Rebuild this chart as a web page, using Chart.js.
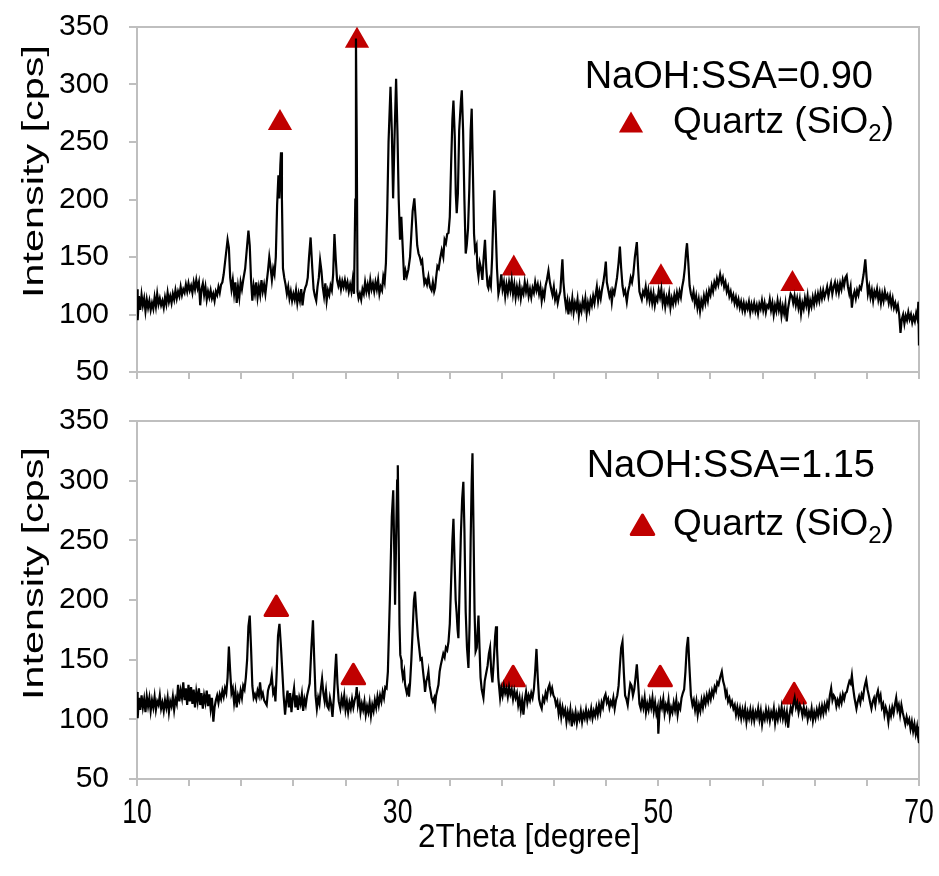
<!DOCTYPE html>
<html><head><meta charset="utf-8">
<script src="https://cdn.jsdelivr.net/npm/chart.js@4/dist/chart.umd.min.js"></script>
<style>
html,body{margin:0;padding:0;background:#fff;}
#wrap{position:relative;width:939px;height:876px;overflow:hidden;background:#fff;}
canvas{position:absolute;left:0;}
#c1{top:0;} #c2{top:400px;}
</style></head><body>
<div id="wrap"><canvas id="c1" width="939" height="400"></canvas><canvas id="c2" width="939" height="476"></canvas></div>
<script>
// ---------- data ----------
const xTickLabels = [10, 30, 50, 70];
const yTickValues = [50, 100, 150, 200, 250, 300, 350];
const sampleLabels = ['NaOH:SSA=0.90', 'NaOH:SSA=1.15'];
const quartzLabel = ['Quartz (SiO', '2', ')'];
const xTitle = '2Theta [degree]';
const yTitle = 'Intensity [cps]';

// XRD pattern, NaOH:SSA = 0.90  [2theta, intensity]
const pattern090 = [
[10.00,122],[10.05,95],[10.15,116],[10.25,104],[10.35,117],[10.45,108],[10.55,114],[10.65,103],[10.75,113],[10.85,106],
[10.95,112],[11.05,104],[11.15,110],[11.25,105],[11.35,115],[11.45,107],[11.55,118],[11.65,109],[11.75,114],[11.85,108],
[11.95,112],[12.05,106],[12.15,115],[12.25,109],[12.35,119],[12.45,111],[12.55,116],[12.65,110],[12.75,118],[12.85,113],
[12.95,121],[13.05,114],[13.15,120],[13.25,116],[13.35,124],[13.45,117],[13.55,122],[13.65,119],[13.75,126],[13.85,120],
[13.95,127],[14.05,121],[14.15,125],[14.25,119],[14.35,128],[14.45,122],[14.55,130],[14.65,123],[14.75,128],[14.85,108],
[14.95,122],[15.05,127],[15.15,117],[15.25,124],[15.35,113],[15.45,120],[15.55,115],[15.65,121],[15.75,114],[15.85,118],
[15.95,112],[16.05,120],[16.15,117],[16.25,124],[16.35,119],[16.45,126],[16.55,128],[16.65,135],[16.80,150],[16.95,165],
[17.05,158],[17.15,132],[17.25,122],[17.35,130],[17.45,118],[17.55,128],[17.65,110],[17.75,124],[17.85,115],[17.95,128],
[18.05,122],[18.15,130],[18.30,140],[18.45,160],[18.55,173],[18.65,160],[18.75,130],[18.85,112],[18.95,125],[19.05,118],
[19.15,128],[19.25,115],[19.35,124],[19.45,117],[19.55,130],[19.65,120],[19.75,126],[19.85,118],[19.95,128],[20.05,138],
[20.15,150],[20.25,141],[20.35,130],[20.45,140],[20.55,135],[20.65,150],[20.75,195],[20.85,221],[20.92,201],[21.00,230],
[21.05,241],[21.12,200],[21.20,140],[21.30,132],[21.40,126],[21.50,118],[21.60,124],[21.70,114],[21.80,120],[21.90,112],
[22.00,118],[22.10,113],[22.20,121],[22.30,110],[22.40,118],[22.50,112],[22.60,122],[22.70,108],[22.80,118],[22.90,123],
[23.00,126],[23.10,132],[23.20,150],[23.32,167],[23.45,140],[23.55,122],[23.65,116],[23.75,112],[23.85,124],[23.95,132],
[24.05,147],[24.15,138],[24.25,124],[24.35,116],[24.45,127],[24.55,112],[24.65,121],[24.75,117],[24.85,125],[24.95,121],
[25.05,135],[25.15,170],[25.25,148],[25.35,130],[25.45,125],[25.55,130],[25.65,122],[25.75,129],[25.85,124],[25.95,130],
[26.05,123],[26.15,128],[26.25,120],[26.35,126],[26.45,120],[26.55,130],[26.65,118],[26.75,200],[26.80,340],[26.86,250],
[26.92,120],[27.00,114],[27.10,118],[27.20,113],[27.30,122],[27.40,118],[27.50,128],[27.60,120],[27.70,126],[27.80,119],
[27.90,130],[28.00,122],[28.10,127],[28.20,120],[28.30,128],[28.40,122],[28.50,130],[28.60,118],[28.70,124],[28.80,121],
[28.90,133],[29.00,128],[29.10,145],[29.20,190],[29.30,250],[29.45,298],[29.55,260],[29.65,201],[29.75,250],[29.88,305],
[29.98,260],[30.08,200],[30.18,165],[30.28,185],[30.38,160],[30.50,130],[30.60,138],[30.70,133],[30.82,139],[30.95,150],
[31.05,170],[31.15,190],[31.28,201],[31.40,180],[31.50,160],[31.60,153],[31.70,150],[31.80,145],[31.88,147],[31.95,138],
[32.05,127],[32.15,130],[32.25,126],[32.36,133],[32.48,124],[32.60,121],[32.70,128],[32.80,120],[32.87,123],[32.95,132],
[33.05,142],[33.15,140],[33.25,148],[33.38,156],[33.50,150],[33.60,165],[33.70,162],[33.80,170],[33.90,171],[34.00,185],
[34.10,230],[34.20,270],[34.28,286],[34.38,255],[34.46,205],[34.53,188],[34.62,205],[34.72,260],[34.85,285],[34.92,295],
[35.02,260],[35.12,200],[35.22,153],[35.30,160],[35.40,175],[35.50,210],[35.60,260],[35.68,279],[35.78,220],[35.86,170],
[35.94,156],[36.05,160],[36.12,140],[36.20,133],[36.30,145],[36.40,140],[36.50,130],[36.60,150],[36.70,165],[36.80,140],
[36.90,125],[36.96,123],[37.05,130],[37.15,125],[37.25,150],[37.35,190],[37.42,208],[37.52,175],[37.62,140],[37.73,118],
[37.85,125],[37.95,135],[38.05,122],[38.15,128],[38.25,116],[38.35,126],[38.45,119],[38.55,128],[38.65,121],[38.75,130],
[38.85,118],[38.95,126],[39.05,115],[39.15,124],[39.25,117],[39.35,125],[39.45,114],[39.55,122],[39.65,118],[39.75,128],
[39.85,120],[39.95,126],[40.05,116],[40.15,122],[40.25,115],[40.35,123],[40.45,119],[40.55,128],[40.65,121],[40.75,126],
[40.85,118],[40.95,124],[41.05,112],[41.15,120],[41.25,115],[41.35,125],[41.45,130],[41.57,138],[41.68,128],[41.78,122],
[41.88,117],[41.98,124],[42.08,113],[42.18,118],[42.28,110],[42.38,116],[42.48,120],[42.58,138],[42.64,148],[42.72,128],
[42.82,115],[42.92,106],[43.02,112],[43.10,100],[43.20,110],[43.30,104],[43.40,114],[43.50,102],[43.60,110],[43.70,105],
[43.80,113],[43.90,99],[44.00,108],[44.10,103],[44.20,112],[44.30,106],[44.40,114],[44.50,101],[44.60,110],[44.70,104],
[44.80,113],[44.90,108],[45.00,116],[45.10,110],[45.20,118],[45.28,124],[45.38,112],[45.48,120],[45.58,114],[45.68,122],
[45.78,128],[45.90,138],[45.97,146],[46.05,128],[46.15,122],[46.25,116],[46.35,120],[46.43,111],[46.53,121],[46.63,118],
[46.73,125],[46.83,132],[46.95,145],[47.05,159],[47.15,140],[47.25,125],[47.35,118],[47.45,121],[47.58,111],[47.68,120],
[47.78,125],[47.88,132],[47.98,128],[48.08,135],[48.20,150],[48.35,163],[48.45,140],[48.55,120],[48.65,116],[48.73,113],
[48.83,120],[48.93,117],[49.03,124],[49.13,114],[49.23,121],[49.33,112],[49.43,119],[49.53,110],[49.63,118],[49.73,108],
[49.83,115],[49.93,112],[50.03,121],[50.13,115],[50.23,122],[50.33,110],[50.43,117],[50.53,107],[50.63,115],[50.73,110],
[50.83,118],[50.93,106],[51.03,114],[51.13,109],[51.23,117],[51.33,111],[51.43,119],[51.53,113],[51.63,120],[51.73,115],
[51.83,124],[51.93,130],[52.03,140],[52.13,155],[52.20,162],[52.30,145],[52.40,125],[52.50,118],[52.60,114],[52.70,120],
[52.80,110],[52.90,116],[53.00,106],[53.10,113],[53.20,103],[53.30,112],[53.40,107],[53.50,116],[53.60,110],[53.70,118],
[53.80,112],[53.90,121],[54.00,117],[54.10,125],[54.20,120],[54.30,128],[54.40,124],[54.50,131],[54.60,126],[54.74,135],
[54.85,128],[54.95,132],[55.05,124],[55.15,128],[55.25,120],[55.35,124],[55.45,116],[55.55,120],[55.65,113],[55.75,117],
[55.85,110],[55.95,115],[56.05,108],[56.15,113],[56.25,106],[56.35,111],[56.45,104],[56.55,110],[56.65,103],[56.75,109],
[56.85,105],[56.95,111],[57.05,102],[57.15,109],[57.25,104],[57.35,110],[57.45,103],[57.55,108],[57.65,101],[57.75,109],
[57.85,105],[57.95,112],[58.05,104],[58.15,110],[58.25,102],[58.35,108],[58.45,106],[58.55,113],[58.65,104],[58.75,110],
[58.85,100],[58.95,108],[59.05,103],[59.15,112],[59.25,104],[59.35,110],[59.45,99],[59.55,107],[59.65,101],[59.75,109],
[59.85,94],[59.95,105],[60.05,112],[60.15,118],[60.25,116],[60.35,110],[60.45,116],[60.55,108],[60.65,114],[60.75,106],
[60.85,113],[60.95,101],[61.05,110],[61.15,105],[61.25,114],[61.35,108],[61.45,116],[61.55,104],[61.65,112],[61.75,107],
[61.85,115],[61.95,109],[62.05,117],[62.15,111],[62.25,118],[62.35,112],[62.45,120],[62.55,114],[62.65,121],[62.75,115],
[62.85,119],[62.95,124],[63.05,116],[63.15,122],[63.25,127],[63.35,118],[63.45,124],[63.55,128],[63.65,120],[63.75,126],
[63.85,119],[63.95,127],[64.05,122],[64.15,130],[64.25,125],[64.35,132],[64.45,134],[64.55,124],[64.65,118],[64.75,124],
[64.85,106],[64.95,116],[65.05,120],[65.15,114],[65.25,121],[65.35,117],[65.45,124],[65.55,122],[65.65,128],[65.75,135],
[65.88,148],[65.98,132],[66.08,118],[66.18,124],[66.28,115],[66.38,121],[66.48,112],[66.58,120],[66.68,116],[66.78,122],
[66.88,113],[66.98,119],[67.08,110],[67.18,118],[67.28,112],[67.38,120],[67.48,114],[67.58,117],[67.68,110],[67.78,116],
[67.88,108],[67.98,114],[68.08,106],[68.18,110],[68.28,104],[68.38,108],[68.48,100],[68.58,84],[68.68,96],[68.78,100],
[68.88,92],[68.98,99],[69.08,95],[69.18,102],[69.28,96],[69.38,100],[69.48,93],[69.58,98],[69.68,94],[69.78,101],
[69.88,96],[69.95,111],[70.00,73]
];

// XRD pattern, NaOH:SSA = 1.15  [2theta, intensity]
const pattern115 = [
[10.00,123],[10.05,101],[10.15,118],[10.25,108],[10.35,120],[10.45,110],[10.55,117],[10.65,106],[10.75,119],[10.85,111],
[10.95,118],[11.05,107],[11.15,116],[11.25,110],[11.35,119],[11.45,108],[11.55,115],[11.65,112],[11.75,120],[11.85,109],
[11.95,114],[12.05,107],[12.15,116],[12.25,110],[12.35,118],[12.45,106],[12.55,115],[12.65,111],[12.75,119],[12.85,108],
[12.95,117],[13.05,113],[13.15,129],[13.25,115],[13.35,124],[13.45,118],[13.55,131],[13.65,116],[13.75,126],[13.85,112],
[13.95,129],[14.05,115],[14.15,127],[14.25,113],[14.35,125],[14.45,110],[14.55,123],[14.65,115],[14.75,126],[14.85,112],
[14.95,122],[15.05,109],[15.15,120],[15.25,114],[15.35,124],[15.45,111],[15.55,121],[15.65,109],[15.75,118],[15.86,98],
[15.95,110],[16.05,116],[16.15,120],[16.25,114],[16.35,121],[16.45,117],[16.55,124],[16.65,119],[16.75,126],[16.85,122],
[16.95,135],[17.05,161],[17.15,140],[17.25,122],[17.35,126],[17.45,114],[17.55,123],[17.65,110],[17.75,120],[17.85,116],
[17.95,124],[18.05,118],[18.15,128],[18.25,125],[18.35,135],[18.45,150],[18.55,178],[18.65,187],[18.75,160],[18.85,128],
[18.95,118],[19.05,121],[19.15,117],[19.25,124],[19.35,120],[19.44,131],[19.55,119],[19.65,122],[19.75,116],[19.85,114],
[19.95,112],[20.05,124],[20.15,128],[20.25,130],[20.34,137],[20.45,122],[20.55,125],[20.62,115],[20.72,140],[20.82,170],
[20.93,180],[21.05,160],[21.15,140],[21.25,120],[21.36,104],[21.45,115],[21.55,124],[21.65,110],[21.75,122],[21.85,106],
[21.95,118],[22.05,126],[22.15,110],[22.25,120],[22.35,108],[22.45,118],[22.55,113],[22.65,121],[22.75,107],[22.85,117],
[22.95,112],[23.05,120],[23.15,125],[23.25,130],[23.38,160],[23.50,183],[23.60,150],[23.70,120],[23.80,109],[23.90,118],
[24.00,113],[24.10,125],[24.20,134],[24.30,122],[24.40,115],[24.50,124],[24.60,111],[24.70,109],[24.80,118],[24.90,112],
[25.00,102],[25.10,118],[25.20,140],[25.28,155],[25.38,130],[25.48,115],[25.60,109],[25.70,118],[25.80,112],[25.90,120],
[26.00,108],[26.10,115],[26.20,106],[26.30,114],[26.40,109],[26.50,117],[26.60,110],[26.70,116],[26.80,120],[26.86,127],
[26.95,112],[27.05,118],[27.15,106],[27.25,113],[27.35,108],[27.45,115],[27.55,104],[27.65,111],[27.75,106],[27.85,114],
[27.95,103],[28.05,112],[28.15,107],[28.25,116],[28.35,110],[28.45,119],[28.55,112],[28.65,120],[28.75,115],[28.85,123],
[28.95,118],[29.05,127],[29.15,126],[29.25,140],[29.40,200],[29.55,270],[29.66,292],[29.74,240],[29.80,196],[29.88,250],
[29.96,300],[30.01,313],[30.08,250],[30.14,180],[30.20,154],[30.28,150],[30.31,143],[30.40,135],[30.50,140],[30.57,129],
[30.70,122],[30.80,126],[30.87,119],[30.95,130],[31.05,150],[31.15,175],[31.25,200],[31.33,207],[31.45,185],[31.55,170],
[31.65,160],[31.75,150],[31.85,151],[31.95,140],[32.05,130],[32.10,123],[32.20,132],[32.30,136],[32.36,140],[32.45,128],
[32.55,122],[32.60,118],[32.70,115],[32.80,118],[32.87,112],[32.95,120],[33.05,125],[33.13,129],[33.22,140],[33.30,145],
[33.40,150],[33.50,155],[33.60,152],[33.70,160],[33.80,158],[33.90,165],[34.00,180],[34.10,215],[34.20,250],[34.28,268],
[34.36,235],[34.45,200],[34.52,190],[34.60,175],[34.66,168],[34.75,210],[34.85,255],[34.95,285],[35.04,299],[35.12,260],
[35.22,190],[35.32,160],[35.43,143],[35.52,180],[35.60,250],[35.68,300],[35.74,323],[35.82,260],[35.90,190],[35.98,157],
[36.07,160],[36.14,175],[36.20,187],[36.28,160],[36.36,135],[36.45,125],[36.58,118],[36.68,132],[36.78,138],[36.90,145],
[37.00,155],[37.09,160],[37.18,140],[37.27,131],[37.38,150],[37.48,170],[37.55,178],[37.62,160],[37.72,135],[37.86,118],
[37.95,126],[38.05,120],[38.15,128],[38.25,122],[38.35,126],[38.45,119],[38.55,127],[38.65,121],[38.75,125],[38.85,117],
[38.95,124],[39.05,118],[39.15,122],[39.25,112],[39.35,118],[39.45,108],[39.55,116],[39.65,104],[39.75,116],[39.85,123],
[39.95,114],[40.05,120],[40.15,116],[40.25,122],[40.35,118],[40.45,125],[40.55,140],[40.65,159],[40.75,135],[40.85,117],
[40.95,112],[41.05,109],[41.15,118],[41.25,115],[41.35,122],[41.45,118],[41.55,126],[41.65,129],[41.75,122],[41.85,126],
[41.95,120],[42.05,118],[42.15,112],[42.25,115],[42.35,105],[42.45,112],[42.55,102],[42.65,110],[42.75,104],[42.85,108],
[42.95,98],[43.05,106],[43.15,100],[43.25,108],[43.36,94],[43.45,104],[43.55,99],[43.65,106],[43.75,97],[43.85,104],
[43.95,100],[44.05,107],[44.15,98],[44.25,105],[44.35,101],[44.45,108],[44.55,100],[44.65,106],[44.75,102],[44.85,109],
[44.95,101],[45.05,107],[45.15,103],[45.25,110],[45.35,104],[45.45,112],[45.55,106],[45.65,114],[45.75,110],[45.85,118],
[45.95,121],[46.05,114],[46.15,117],[46.25,110],[46.35,115],[46.45,112],[46.55,118],[46.65,109],[46.75,116],[46.85,120],
[46.95,128],[47.05,145],[47.15,160],[47.25,165],[47.35,140],[47.45,120],[47.55,117],[47.65,112],[47.75,122],[47.85,130],
[47.95,128],[48.05,120],[48.15,125],[48.25,135],[48.35,146],[48.45,130],[48.55,113],[48.65,109],[48.75,116],[48.85,110],
[48.95,118],[49.05,106],[49.15,113],[49.25,108],[49.35,116],[49.45,110],[49.55,118],[49.65,107],[49.75,114],[49.85,105],
[49.95,110],[50.00,88],[50.08,105],[50.18,115],[50.28,110],[50.38,117],[50.48,105],[50.58,112],[50.68,108],[50.78,116],
[50.88,103],[50.98,110],[51.08,106],[51.18,114],[51.28,108],[51.38,116],[51.48,104],[51.58,112],[51.68,109],[51.78,118],
[51.88,122],[51.98,125],[52.08,140],[52.18,160],[52.28,169],[52.38,145],[52.50,120],[52.62,112],[52.72,116],[52.82,108],
[52.92,115],[53.02,104],[53.12,112],[53.22,107],[53.32,116],[53.42,110],[53.52,118],[53.62,113],[53.72,120],[53.82,115],
[53.92,122],[54.02,117],[54.12,124],[54.22,120],[54.32,127],[54.42,124],[54.52,131],[54.62,129],[54.74,135],[54.87,140],
[54.97,132],[55.07,128],[55.17,120],[55.25,123],[55.35,115],[55.45,118],[55.55,112],[55.65,115],[55.76,109],[55.86,112],
[55.96,104],[56.06,110],[56.16,103],[56.26,109],[56.36,101],[56.46,108],[56.56,102],[56.66,109],[56.76,98],[56.86,106],
[56.96,101],[57.06,108],[57.16,100],[57.26,107],[57.36,99],[57.46,106],[57.56,102],[57.66,109],[57.76,100],[57.86,107],
[57.96,96],[58.06,104],[58.16,100],[58.26,108],[58.36,101],[58.46,107],[58.56,99],[58.66,106],[58.76,102],[58.86,109],
[58.96,97],[59.06,105],[59.16,100],[59.26,108],[59.36,102],[59.46,110],[59.56,101],[59.66,107],[59.76,99],[59.86,106],
[59.96,93],[60.06,104],[60.16,110],[60.26,106],[60.36,113],[60.46,118],[60.56,110],[60.66,114],[60.76,106],[60.86,112],
[60.96,109],[61.06,103],[61.16,110],[61.26,104],[61.36,108],[61.46,100],[61.56,106],[61.66,102],[61.76,109],[61.86,99],
[61.96,106],[62.06,101],[62.16,108],[62.26,103],[62.36,110],[62.46,104],[62.56,111],[62.66,105],[62.76,112],[62.86,107],
[62.96,114],[63.06,110],[63.16,120],[63.26,126],[63.36,116],[63.46,120],[63.56,118],[63.66,111],[63.76,116],[63.86,112],
[63.96,119],[64.06,114],[64.16,121],[64.26,117],[64.36,122],[64.46,123],[64.56,128],[64.66,132],[64.76,130],[64.85,137],
[64.95,126],[65.05,118],[65.15,112],[65.20,109],[65.30,115],[65.40,119],[65.50,114],[65.60,121],[65.70,118],[65.80,126],
[65.88,130],[65.95,133],[66.05,125],[66.15,120],[66.25,114],[66.35,109],[66.45,115],[66.55,118],[66.65,112],[66.75,120],
[66.85,124],[66.95,116],[67.05,120],[67.15,110],[67.25,113],[67.35,104],[67.45,110],[67.55,106],[67.65,98],[67.75,108],
[67.85,103],[67.95,110],[68.05,105],[68.15,112],[68.25,118],[68.35,108],[68.45,112],[68.55,104],[68.65,112],[68.75,106],
[68.85,101],[68.95,96],[69.05,102],[69.15,97],[69.25,100],[69.35,92],[69.45,98],[69.55,90],[69.65,96],[69.75,88],
[69.85,94],[69.92,86],[70.00,80]
];

// Quartz markers [2theta, intensity]
const quartz090 = [[20.97,266.5],[26.88,338],[38.91,140],[50.2,132.3],[60.29,126.5]];
const quartz115 = [[20.69,192.5],[26.6,135.2],[38.86,133.5],[50.14,133.5],[60.42,119.2]];

// ---------- drawing ----------
const GRAY = '#BFBFBF';
const RED = '#C00000';
const FONT = '"Liberation Sans", Arial, sans-serif';

function drawScaled(ctx, text, x, y, sx, font, rot, align) {
  ctx.save();
  ctx.translate(x, y);
  if (rot) ctx.rotate(rot);
  ctx.font = font;
  ctx.scale(sx, 1);
  ctx.textAlign = align || 'center';
  ctx.textBaseline = 'alphabetic';
  ctx.fillText(text, 0, 0);
  ctx.restore();
}
function drawFitted(ctx, text, x, y, len, font, rot) {
  ctx.save();
  ctx.font = font;
  const w = ctx.measureText(text).width;
  ctx.restore();
  drawScaled(ctx, text, x, y, len / w, font, rot, 'center');
}

function triangle(ctx, x, y, r, round) {
  ctx.save();
  ctx.beginPath();
  for (let i = 0; i < 3; i++) {
    const a = i * 2 * Math.PI / 3;
    const px = x + Math.sin(a) * r, py = y - Math.cos(a) * r;
    if (i === 0) ctx.moveTo(px, py); else ctx.lineTo(px, py);
  }
  ctx.closePath();
  ctx.fillStyle = RED;
  ctx.fill();
  if (round) { ctx.lineJoin = 'round'; ctx.lineWidth = 3; ctx.strokeStyle = RED; ctx.stroke(); }
  ctx.restore();
}

const framePlugin = {
  id: 'frame',
  beforeDatasetsDraw(chart) {
    const {ctx, chartArea: a} = chart;
    ctx.save();
    ctx.strokeStyle = GRAY;
    ctx.lineWidth = 2;
    ctx.beginPath();
    ctx.moveTo(a.left, a.top); ctx.lineTo(a.right, a.top); ctx.lineTo(a.right, a.bottom);
    ctx.stroke();
    ctx.restore();
  },
  beforeDatasetDraw(chart, args) {
    if (args.index === 1) chart.ctx.lineJoin = 'round';
  },
  afterDatasetDraw(chart) {
    chart.ctx.lineJoin = 'miter';
  }
};

const textPlugin = {
  id: 'panelTexts',
  afterDraw(chart, args, o) {
    const ctx = chart.ctx;
    const xs = chart.scales.x;
    const area = chart.chartArea;
    ctx.save();
    ctx.fillStyle = '#000';
    // y axis title
    drawFitted(ctx, yTitle, 43, o.yTitleCenter, 253, '30px ' + FONT, -Math.PI / 2);
    // x tick labels + title (bottom panel only)
    if (o.showX) {
      xTickLabels.forEach(v => {
        drawScaled(ctx, String(v), xs.getPixelForValue(v), area.bottom + 44, 0.76, '35px ' + FONT, 0, 'center');
      });
      drawFitted(ctx, xTitle, 529, o.xTitleBase, 222, '34px ' + FONT, 0);
    }
    // sample label
    ctx.font = '38px ' + FONT;
    ctx.textAlign = 'right';
    ctx.textBaseline = 'alphabetic';
    ctx.fillText(o.label, o.labelRight, o.labelBase);
    // quartz legend
    triangle(ctx, o.triX, o.triY, o.triR, o.triRound);
    ctx.textAlign = 'left';
    ctx.font = '37px ' + FONT;
    let x = o.quartzX;
    ctx.fillText(quartzLabel[0], x, o.quartzBase);
    x += ctx.measureText(quartzLabel[0]).width;
    ctx.font = '24px ' + FONT;
    ctx.fillText(quartzLabel[1], x, o.quartzBase + 8);
    x += ctx.measureText(quartzLabel[1]).width;
    ctx.font = '37px ' + FONT;
    ctx.fillText(quartzLabel[2], x, o.quartzBase);
    ctx.restore();
  }
};

function makeChart(id, pattern, quartz, cfg) {
  const canvas = document.getElementById(id);
  return new Chart(canvas, {
    type: 'scatter',
    data: {
      datasets: [
        { data: pattern, showLine: true, borderColor: '#000', borderWidth: 2.2, pointRadius: 0, tension: 0, fill: false },
        { data: quartz, showLine: false, pointStyle: 'triangle', pointRadius: cfg.triR,
          backgroundColor: RED, borderColor: RED, borderWidth: cfg.triRound ? 3 : 0, clip: false }
      ]
    },
    options: {
      responsive: false,
      animation: false,
      devicePixelRatio: 1,
      layout: { padding: { top: cfg.padTop, right: 20, left: 0, bottom: 0 } },
      plugins: { legend: { display: false }, tooltip: { enabled: false },
        panelTexts: cfg.texts },
      scales: {
        x: {
          type: 'linear', min: 10, max: 70,
          afterFit(s) { s.height = cfg.xHeight; s.paddingLeft = 0; s.paddingRight = 0; s.paddingTop = 0; s.paddingBottom = 0; },
          border: { display: true, color: GRAY, width: 2 },
          grid: { display: true, drawOnChartArea: false, drawTicks: true, tickLength: 7, color: GRAY, lineWidth: 2 },
          ticks: { display: false, stepSize: 4, autoSkip: false, maxRotation: 0 }
        },
        y: {
          type: 'linear', min: yTickValues[0], max: yTickValues[yTickValues.length - 1],
          afterFit(s) { s.width = 137; s.paddingTop = 0; s.paddingBottom = 0; s.paddingLeft = 0; s.paddingRight = 0; },
          border: { display: true, color: GRAY, width: 2 },
          grid: { display: true, drawOnChartArea: false, drawTicks: true, tickLength: 8, color: GRAY, lineWidth: 2 },
          ticks: { stepSize: 50, padding: 20, color: '#000', font: { family: FONT, size: 30, lineHeight: 1 } }
        }
      }
    },
    plugins: [framePlugin, textPlugin]
  });
}

makeChart('c1', pattern090, quartz090, {
  triR: 14, triRound: false, padTop: 27, xHeight: 28,
  texts: { label: sampleLabels[0], labelRight: 873, labelBase: 88, quartzX: 673, quartzBase: 133,
           triX: 631, triY: 125.5, triR: 14, triRound: false, yTitleCenter: 171.5, showX: false }
});
makeChart('c2', pattern115, quartz115, {
  triR: 13, triRound: true, padTop: 21, xHeight: 97,
  texts: { label: sampleLabels[1], labelRight: 875, labelBase: 77, quartzX: 673, quartzBase: 135,
           triX: 642.5, triY: 128, triR: 13, triRound: true, yTitleCenter: 173.5, showX: true, xTitleBase: 447 }
});
</script>
</body></html>
